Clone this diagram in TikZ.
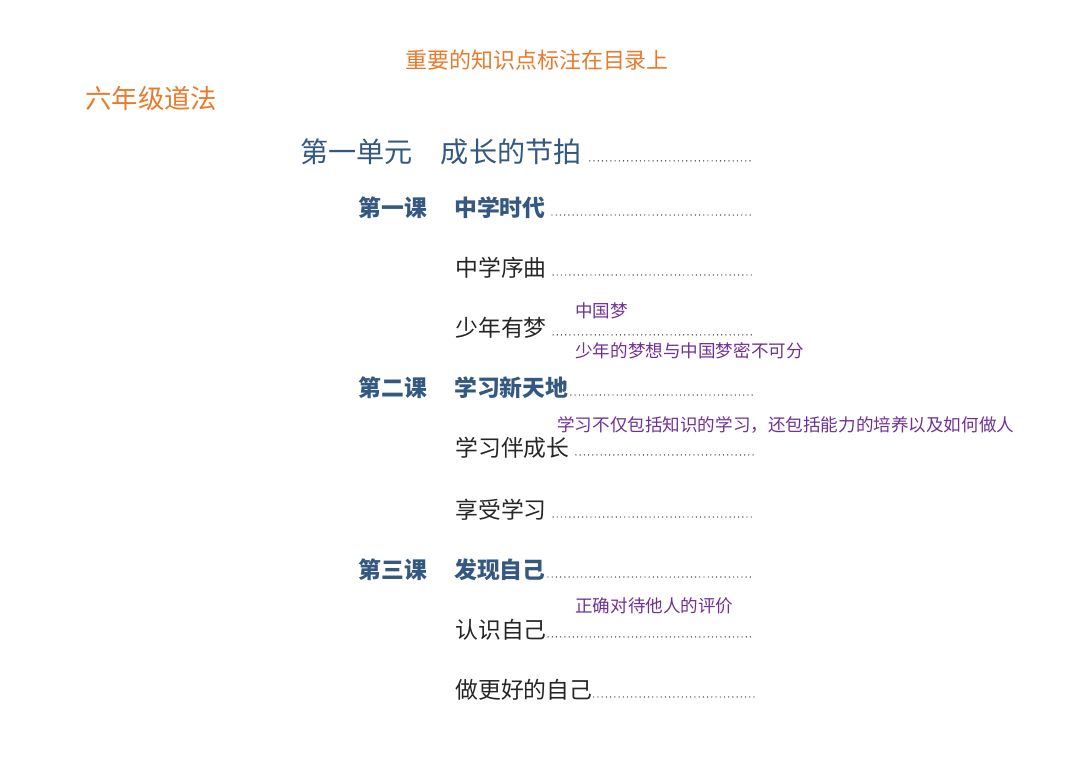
\documentclass[tikz,border=0pt]{standalone}
\usepackage{fontspec}
\setmainfont{Noto Sans CJK SC}
\usetikzlibrary{positioning}
\definecolor{hdorange}{RGB}{232,122,44}
\definecolor{unitblue}{RGB}{52,88,128}
\definecolor{notepurple}{RGB}{112,48,150}
\tikzset{
head/.style = {anchor=west, inner sep=0pt, text=hdorange},
unit/.style = {anchor=west, inner sep=0pt, text=unitblue, font=\fontsize{16}{18}\selectfont},
lesson/.style = {anchor=west, inner sep=0pt, text=unitblue, font=\bfseries\fontsize{13}{15}\selectfont},
item/.style = {anchor=west, inner sep=0pt, text=black!85, font=\fontsize{13}{15}\selectfont},
note/.style = {anchor=west, inner sep=0pt, text=notepurple, font=\fontsize{10}{12}\selectfont},
leader/.style = {line width=0.8pt, line cap=round, dash pattern=on 0pt off 2.4pt, black!80}
}
\begin{document}
\begin{tikzpicture}[x=0.02cm,y=-0.02cm]
\useasboundingbox (0,0) rectangle (1080,764);
		% heading
		\node [head, font=\fontsize{12.5}{14}\selectfont] (title) at (405,60) {重要的知识点标注在目录上};
		\node [head, font=\fontsize{15}{17}\selectfont] (grade) at (85,98) {六年级道法};
		% unit and lessons
		\node [unit] (unit1) at (300,152) {第一单元\hspace{1em}成长的节拍};
		\node [lesson] (les1) at (358,208) {第一课\hspace{1.2em}中学时代};
		\node [item] (it1) at (455,268) {中学序曲};
		\node [item] (it2) at (455,328) {少年有梦};
		\node [lesson] (les2) at (358,388) {第二课\hspace{1.2em}学习新天地};
		\node [item] (it3) at (455,448) {学习伴成长};
		\node [item] (it4) at (455,510) {享受学习};
		\node [lesson] (les3) at (358,570) {第三课\hspace{1.2em}发现自己};
		\node [item] (it5) at (455,630) {认识自己};
		\node [item] (it6) at (455,690) {做更好的自己};
		% leader dots
		\foreach \n/\gap in {unit1/8,les1/6,it1/6,it2/6,les2/2,it3/6,it4/6,les3/2,it5/1,it6/1}
			\draw [leader] ([xshift=\gap*0.02cm, yshift=1pt]\n.base east) -- ([yshift=1pt]\n.base east -| 754,0);
		% notes
		\node [note] (n1) at (575,311) {中国梦};
		\node [note] (n2) at (575,351) {少年的梦想与中国梦密不可分};
		\node [note] (n3) at (557,425) {学习不仅包括知识的学习，还包括能力的培养以及如何做人};
		\node [note] (n4) at (575,606) {正确对待他人的评价};
\end{tikzpicture}
\end{document}
